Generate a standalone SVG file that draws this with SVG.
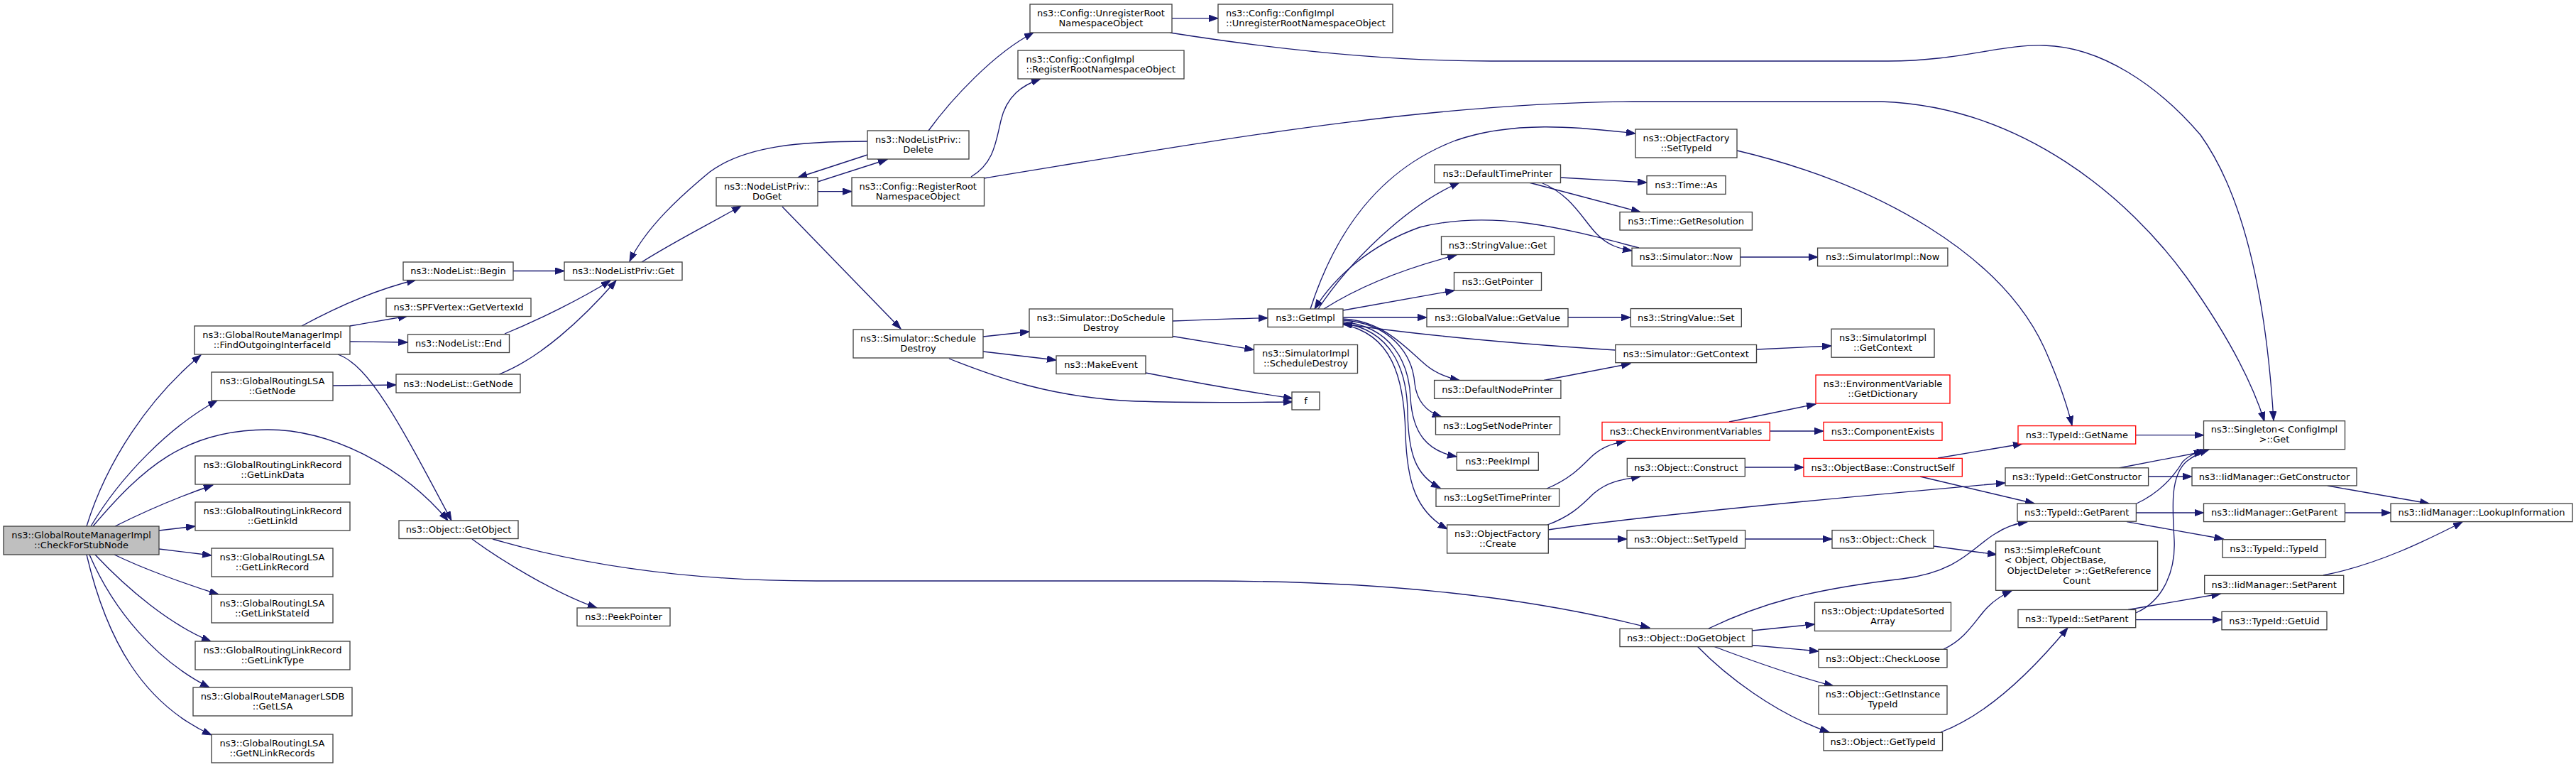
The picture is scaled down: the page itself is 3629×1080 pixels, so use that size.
<svg xmlns="http://www.w3.org/2000/svg" width="3629" height="1080" viewBox="0 0 3629 1080">
<defs>
<style>
.n rect{fill:#fff;stroke:#404040;stroke-width:1.33}
.n.red rect{stroke:#f00}
.n.root rect{fill:#bfbfbf}
text{font-family:"DejaVu Sans",Verdana,sans-serif;font-size:13px;fill:#000;text-anchor:middle}
text.l{text-anchor:start}
#edges path{fill:none;stroke:#191970;stroke-width:1.33;marker-end:url(#arr)}
</style>
<marker id="arr" markerWidth="14" markerHeight="11" refX="13" refY="4.7" orient="auto" markerUnits="userSpaceOnUse"><path d="M0,0 L13,4.7 L0,9.4 z" fill="#191970" stroke="#191970" stroke-width="1"/></marker>
</defs>
<rect x="0" y="0" width="3629" height="1080" fill="#fff"/>
<g id="edges">
<path d="M122,741 C150,650 210,560 283,500"/>
<path d="M128,741 C170,670 240,600 306,564"/>
<path d="M131,741 C200,660 260,605 377,605 C470,605 570,660 631,733"/>
<path d="M162,741 C200,722 250,700 300,683"/>
<path d="M224,747 L275,741"/>
<path d="M224,773 L298,782"/>
<path d="M161,781 C200,800 260,822 308,837"/>
<path d="M134,781 C180,830 240,880 297,903"/>
<path d="M126,781 C160,860 220,930 295,968"/>
<path d="M122,781 C150,900 200,990 298,1035"/>
<path d="M425,459 C460,440 520,410 586,394"/>
<path d="M493,459 L574,445"/>
<path d="M493,481 L574,482"/>
<path d="M476,499 C520,515 560,590 636,733"/>
<path d="M469,543 L558,542"/>
<path d="M723,381.5 L795,381.5"/>
<path d="M711,470 C760,450 820,420 860,395"/>
<path d="M703,527 C760,505 820,450 868,395"/>
<path d="M904,369 C950,340 1000,315 1044,290"/>
<path d="M1222,199 C1130,199 1050,205 1000,242 C960,275 910,320 887,368"/>
<path d="M1152,256 L1250,224.5"/>
<path d="M1222,218 L1124,250"/>
<path d="M1152,269.6 L1200,269.6"/>
<path d="M1102,291 L1269,463"/>
<path d="M1308,184 C1340,140 1400,75 1456,46"/>
<path d="M1368,249 C1400,230 1403,200 1410,170 C1418,135 1440,120 1466,111"/>
<path d="M1386,251 C1700,200 2000,145 2300,143 L2650,143 C2850,150 3000,280 3080,390 C3130,460 3170,530 3190,593"/>
<path d="M1651,25.8 L1716,25.8"/>
<path d="M1648,46 C1800,70 1950,86 2100,86 L2660,86 C2760,86 2820,62 2880,64 C2960,66 3040,120 3100,190 C3150,260 3190,380 3203,592"/>
<path d="M1385,474 L1450,467"/>
<path d="M1385,495 L1488,507"/>
<path d="M1337,505 C1400,530 1480,560 1600,565 C1700,568 1780,566 1821,566"/>
<path d="M1614,525 C1680,538 1760,552 1821,561"/>
<path d="M1652,452 C1700,450 1740,448.5 1786,447.7"/>
<path d="M1652,473.5 L1766.5,492.4"/>
<path d="M1846,435 C1880,330 1940,240 2050,198 C2130,170 2220,178 2304,188"/>
<path d="M1857,435 C1900,370 1980,290 2056,257"/>
<path d="M2309,349 C2200,320 2100,295 2000,320 C1930,345 1880,390 1852,435"/>
<path d="M2198.5,250 L2320,257"/>
<path d="M2154,257 L2311,298.6"/>
<path d="M2171,257 C2215,275 2230,310 2250,330 C2265,345 2280,350 2299,353"/>
<path d="M1865,435 C1920,400 1990,375 2052,359"/>
<path d="M1892,437 L2049,409"/>
<path d="M1892,447 L2010,447"/>
<path d="M2209,447 L2297,447"/>
<path d="M2276,493 C2150,485 2000,472 1892,456"/>
<path d="M1892,449 C1950,452 1980,490 2010,515 C2025,527 2040,532 2056,535.5"/>
<path d="M2175,535.5 L2297,512"/>
<path d="M1892,451 C1960,455 1990,500 1993,540 C1996,565 2010,580 2031,587"/>
<path d="M1892,453 C1960,460 1985,510 1987,560 C1990,610 2010,635 2052,643"/>
<path d="M1892,455 C1960,465 1982,520 1983,580 C1984,640 1995,670 2029,687"/>
<path d="M1892,457 C1960,470 1978,530 1980,610 C1982,680 1995,720 2039,745"/>
<path d="M2179,688 C2210,675 2225,660 2240,645 C2255,630 2270,625 2290,621"/>
<path d="M2180,739 C2210,728 2225,715 2245,695 C2265,678 2285,675 2311,671"/>
<path d="M2181,746 C2300,728 2600,700 2825,680"/>
<path d="M2181,759 L2292,759"/>
<path d="M2447,212 C2650,260 2820,360 2880,490 C2900,535 2912,570 2919,599"/>
<path d="M2436,594 L2558,569"/>
<path d="M2493,607 L2569,607"/>
<path d="M2458,658 L2541,658"/>
<path d="M2730,645 L2849,625"/>
<path d="M2705,671 L2866,709"/>
<path d="M2459,759 L2581,759"/>
<path d="M2724,769 L2813,781"/>
<path d="M694,759 C800,790 950,818 1150,818 L1700,818 C1950,818 2150,840 2324,884"/>
<path d="M665,759 C700,785 780,835 841,856"/>
<path d="M2407,885 C2480,850 2550,830 2680,815 C2760,805 2780,770 2810,752 C2825,742 2840,737 2856,735"/>
<path d="M2468,888 L2556.5,879"/>
<path d="M2468,908.5 L2562,917"/>
<path d="M2415,910.5 C2480,935 2540,955 2583,966"/>
<path d="M2391,910 C2430,950 2500,1005 2577,1031"/>
<path d="M2738,914 C2770,900 2785,870 2800,855 C2810,845 2820,838 2834,832"/>
<path d="M2734,1031 C2790,1010 2850,960 2913,884"/>
<path d="M3009,612.7 L3104.5,612.7"/>
<path d="M2985,659 L3104,636"/>
<path d="M3027,671 L3088,671"/>
<path d="M3010,709 C3040,695 3060,675 3075,650 C3085,640 3095,637 3108,635"/>
<path d="M3010,722 L3104.5,722"/>
<path d="M2996,734.6 L3132.6,759"/>
<path d="M3009,863 C3050,845 3065,800 3063,760 C3060,710 3058,670 3080,650 C3090,642 3100,637 3112,633"/>
<path d="M2998,858.5 L3128.5,836"/>
<path d="M3009,872.6 L3130,872.6"/>
<path d="M3279,684 L3422,709"/>
<path d="M3303.4,722 L3368,722"/>
<path d="M3273,810 C3350,795 3420,760 3469,735"/>
<path d="M2452,362 L2561,362"/>
<path d="M2474.5,492 L2580,487"/>
</g>
<g id="n_check" class="n root"><rect x="5" y="741" width="219" height="40"/><text x="114.5" y="757.5">ns3::GlobalRouteManagerImpl</text><text x="114.5" y="771.5">::CheckForStubNode</text></g>
<g id="n_find" class="n"><rect x="274" y="459" width="219" height="40"/><text x="383.5" y="475.5">ns3::GlobalRouteManagerImpl</text><text x="383.5" y="489.5">::FindOutgoingInterfaceId</text></g>
<g id="n_lsanode" class="n"><rect x="298" y="524" width="171" height="40"/><text x="383.5" y="540.5">ns3::GlobalRoutingLSA</text><text x="383.5" y="554.5">::GetNode</text></g>
<g id="n_linkdata" class="n"><rect x="275" y="642" width="218" height="40"/><text x="384" y="658.5">ns3::GlobalRoutingLinkRecord</text><text x="384" y="672.5">::GetLinkData</text></g>
<g id="n_linkid" class="n"><rect x="275" y="707" width="218" height="40"/><text x="384" y="723.5">ns3::GlobalRoutingLinkRecord</text><text x="384" y="737.5">::GetLinkId</text></g>
<g id="n_linkrecord" class="n"><rect x="298" y="772" width="171" height="40"/><text x="383.5" y="788.5">ns3::GlobalRoutingLSA</text><text x="383.5" y="802.5">::GetLinkRecord</text></g>
<g id="n_linkstate" class="n"><rect x="298" y="837" width="171" height="40"/><text x="383.5" y="853.5">ns3::GlobalRoutingLSA</text><text x="383.5" y="867.5">::GetLinkStateId</text></g>
<g id="n_linktype" class="n"><rect x="275" y="903" width="218" height="40"/><text x="384" y="919.5">ns3::GlobalRoutingLinkRecord</text><text x="384" y="933.5">::GetLinkType</text></g>
<g id="n_getlsa" class="n"><rect x="272" y="968" width="224" height="40"/><text x="384" y="984.5">ns3::GlobalRouteManagerLSDB</text><text x="384" y="998.5">::GetLSA</text></g>
<g id="n_nlink" class="n"><rect x="298" y="1034" width="171" height="40"/><text x="383.5" y="1050.5">ns3::GlobalRoutingLSA</text><text x="383.5" y="1064.5">::GetNLinkRecords</text></g>
<g id="n_begin" class="n"><rect x="568" y="369" width="155" height="25.5"/><text x="645.5" y="386.2">ns3::NodeList::Begin</text></g>
<g id="n_vertex" class="n"><rect x="544" y="420" width="204" height="25.5"/><text x="646" y="437.2">ns3::SPFVertex::GetVertexId</text></g>
<g id="n_end" class="n"><rect x="574.5" y="471" width="143" height="25.5"/><text x="646" y="488.2">ns3::NodeList::End</text></g>
<g id="n_nlgetnode" class="n"><rect x="558" y="527" width="175" height="26"/><text x="645.5" y="544.5">ns3::NodeList::GetNode</text></g>
<g id="n_getobject" class="n"><rect x="562" y="733" width="168" height="25.5"/><text x="646" y="750.2">ns3::Object::GetObject</text></g>
<g id="n_peekpointer" class="n"><rect x="813" y="856" width="131" height="25.5"/><text x="878.5" y="873.2">ns3::PeekPointer</text></g>
<g id="n_privget" class="n"><rect x="795" y="369" width="166" height="25.5"/><text x="878" y="386.2">ns3::NodeListPriv::Get</text></g>
<g id="n_doget" class="n"><rect x="1009" y="250" width="143" height="40"/><text x="1080.5" y="266.5">ns3::NodeListPriv::</text><text x="1080.5" y="280.5">DoGet</text></g>
<g id="n_delete" class="n"><rect x="1222" y="184" width="143" height="40"/><text x="1293.5" y="200.5">ns3::NodeListPriv::</text><text x="1293.5" y="214.5">Delete</text></g>
<g id="n_regroot" class="n"><rect x="1200" y="250" width="186.5" height="40"/><text x="1293.2" y="266.5">ns3::Config::RegisterRoot</text><text x="1293.2" y="280.5">NamespaceObject</text></g>
<g id="n_unregroot" class="n"><rect x="1451" y="6" width="200" height="40"/><text x="1551" y="22.5">ns3::Config::UnregisterRoot</text><text x="1551" y="36.5">NamespaceObject</text></g>
<g id="n_implreg" class="n"><rect x="1434" y="71" width="234" height="40"/><text class="l" x="1445.5" y="87.5">ns3::Config::ConfigImpl</text><text class="l" x="1445.5" y="101.5">::RegisterRootNamespaceObject</text></g>
<g id="n_implunreg" class="n"><rect x="1716" y="6" width="246" height="40"/><text class="l" x="1727" y="22.5">ns3::Config::ConfigImpl</text><text class="l" x="1727" y="36.5">::UnregisterRootNamespaceObject</text></g>
<g id="n_schedule" class="n"><rect x="1202" y="464" width="183" height="40"/><text x="1293.5" y="480.5">ns3::Simulator::Schedule</text><text x="1293.5" y="494.5">Destroy</text></g>
<g id="n_doschedule" class="n"><rect x="1450" y="435" width="202" height="40"/><text x="1551" y="451.5">ns3::Simulator::DoSchedule</text><text x="1551" y="465.5">Destroy</text></g>
<g id="n_makeevent" class="n"><rect x="1488" y="501" width="126" height="25.5"/><text x="1551" y="518.2">ns3::MakeEvent</text></g>
<g id="n_f" class="n"><rect x="1820" y="552" width="39" height="25"/><text x="1839.5" y="569">f</text></g>
<g id="n_getimpl" class="n"><rect x="1786" y="435" width="106" height="25.5"/><text x="1839" y="452.2">ns3::GetImpl</text></g>
<g id="n_simimplsched" class="n"><rect x="1766.5" y="485.5" width="146" height="40"/><text x="1839.5" y="502">ns3::SimulatorImpl</text><text x="1839.5" y="516">::ScheduleDestroy</text></g>
<g id="n_dtp" class="n"><rect x="2021" y="232" width="177.5" height="25.5"/><text x="2109.7" y="249.2">ns3::DefaultTimePrinter</text></g>
<g id="n_svget" class="n"><rect x="2030.5" y="333" width="159" height="25.5"/><text x="2110" y="350.2">ns3::StringValue::Get</text></g>
<g id="n_getpointer" class="n"><rect x="2048.5" y="383.6" width="123" height="25.5"/><text x="2110" y="400.8">ns3::GetPointer</text></g>
<g id="n_gvget" class="n"><rect x="2010" y="434.6" width="199" height="25.5"/><text x="2109.5" y="451.8">ns3::GlobalValue::GetValue</text></g>
<g id="n_dnp" class="n"><rect x="2020.6" y="535.5" width="178.3" height="25.8"/><text x="2109.7" y="552.9">ns3::DefaultNodePrinter</text></g>
<g id="n_lsnp" class="n"><rect x="2022.5" y="586.8" width="175" height="25.2"/><text x="2110" y="603.9">ns3::LogSetNodePrinter</text></g>
<g id="n_peekimpl" class="n"><rect x="2052.3" y="637" width="115" height="25.2"/><text x="2109.8" y="654.1">ns3::PeekImpl</text></g>
<g id="n_lstp" class="n"><rect x="2023" y="688" width="173.6" height="25.2"/><text x="2109.8" y="705.1">ns3::LogSetTimePrinter</text></g>
<g id="n_ofcreate" class="n"><rect x="2038.6" y="739" width="142.7" height="40"/><text x="2110" y="755.5">ns3::ObjectFactory</text><text x="2110" y="769.5">::Create</text></g>
<g id="n_ofsettype" class="n"><rect x="2304" y="182" width="143" height="40"/><text x="2375.5" y="198.5">ns3::ObjectFactory</text><text x="2375.5" y="212.5">::SetTypeId</text></g>
<g id="n_timeas" class="n"><rect x="2320" y="247.6" width="111" height="25.8"/><text x="2375.5" y="265">ns3::Time::As</text></g>
<g id="n_timeres" class="n"><rect x="2282" y="298.6" width="186.4" height="25.4"/><text x="2375.2" y="315.8">ns3::Time::GetResolution</text></g>
<g id="n_simnow" class="n"><rect x="2299" y="349.2" width="152.6" height="25.5"/><text x="2375.3" y="366.4">ns3::Simulator::Now</text></g>
<g id="n_svset" class="n"><rect x="2297.3" y="434.6" width="156" height="25.5"/><text x="2375.3" y="451.8">ns3::StringValue::Set</text></g>
<g id="n_simctx" class="n"><rect x="2275.8" y="485.5" width="198.7" height="25.2"/><text x="2375.1" y="502.6">ns3::Simulator::GetContext</text></g>
<g id="n_simimplnow" class="n"><rect x="2560.6" y="349.2" width="183.3" height="25.5"/><text x="2652.2" y="366.4">ns3::SimulatorImpl::Now</text></g>
<g id="n_simimplctx" class="n"><rect x="2580" y="463.2" width="145" height="40"/><text x="2652.5" y="479.7">ns3::SimulatorImpl</text><text x="2652.5" y="493.7">::GetContext</text></g>
<g id="n_envdict" class="n red"><rect x="2558" y="528" width="189" height="40"/><text x="2652.5" y="544.5">ns3::EnvironmentVariable</text><text x="2652.5" y="558.5">::GetDictionary</text></g>
<g id="n_checkenv" class="n red"><rect x="2257" y="594.4" width="236.3" height="25.8"/><text x="2375.1" y="611.8">ns3::CheckEnvironmentVariables</text></g>
<g id="n_compexists" class="n red"><rect x="2569" y="594.4" width="167" height="25.8"/><text x="2652.5" y="611.8">ns3::ComponentExists</text></g>
<g id="n_construct" class="n"><rect x="2292.3" y="645.4" width="166" height="25.3"/><text x="2375.3" y="662.5">ns3::Object::Construct</text></g>
<g id="n_constructself" class="n red"><rect x="2541" y="645.4" width="223.3" height="25.5"/><text x="2652.6" y="662.6">ns3::ObjectBase::ConstructSelf</text></g>
<g id="n_objsettype" class="n"><rect x="2292" y="746.6" width="166.6" height="25.5"/><text x="2375.3" y="763.8">ns3::Object::SetTypeId</text></g>
<g id="n_objcheck" class="n"><rect x="2581" y="746.6" width="143" height="25.5"/><text x="2652.5" y="763.8">ns3::Object::Check</text></g>
<g id="n_dogetobject" class="n"><rect x="2282" y="885.4" width="186.4" height="25.2"/><text x="2375.2" y="902.5">ns3::Object::DoGetObject</text></g>
<g id="n_updsorted" class="n"><rect x="2556.5" y="848.2" width="192" height="40.3"/><text x="2652.5" y="864.8">ns3::Object::UpdateSorted</text><text x="2652.5" y="878.8">Array</text></g>
<g id="n_checkloose" class="n"><rect x="2562" y="914.3" width="181" height="25.5"/><text x="2652.5" y="931.5">ns3::Object::CheckLoose</text></g>
<g id="n_getinst" class="n"><rect x="2562" y="965.6" width="181" height="40.3"/><text x="2652.5" y="982.2">ns3::Object::GetInstance</text><text x="2652.5" y="996.2">TypeId</text></g>
<g id="n_objgettype" class="n"><rect x="2569" y="1031.4" width="167.5" height="25.5"/><text x="2652.7" y="1048.6">ns3::Object::GetTypeId</text></g>
<g id="n_getname" class="n red"><rect x="2843" y="599.6" width="165.7" height="25.5"/><text x="2925.8" y="616.8">ns3::TypeId::GetName</text></g>
<g id="n_getctor" class="n"><rect x="2825" y="658.8" width="201.6" height="25.1"/><text x="2925.8" y="675.8">ns3::TypeId::GetConstructor</text></g>
<g id="n_getparent" class="n"><rect x="2842" y="709.1" width="167.4" height="25.1"/><text x="2925.7" y="726.1">ns3::TypeId::GetParent</text></g>
<g id="n_simpleref" class="n"><rect x="2811.6" y="762" width="228" height="69.3"/><text class="l" x="2823.5" y="778.6">ns3::SimpleRefCount</text><text class="l" x="2823.5" y="793.1">&lt; Object, ObjectBase,</text><text class="l" x="2827.5" y="807.5">ObjectDeleter &gt;::GetReference</text><text x="2925.6" y="822">Count</text></g>
<g id="n_setparent" class="n"><rect x="2843" y="858.5" width="165.7" height="25.2"/><text x="2925.8" y="875.6">ns3::TypeId::SetParent</text></g>
<g id="n_singleton" class="n"><rect x="3104.5" y="592.7" width="199" height="40"/><text x="3204" y="609.2">ns3::Singleton&lt; ConfigImpl</text><text x="3204" y="623.2">&gt;::Get</text></g>
<g id="n_iidctor" class="n"><rect x="3088" y="658.8" width="232" height="25.1"/><text x="3204" y="675.8">ns3::IidManager::GetConstructor</text></g>
<g id="n_iidparent" class="n"><rect x="3104.5" y="709.1" width="199" height="25.5"/><text x="3204" y="726.3">ns3::IidManager::GetParent</text></g>
<g id="n_lookup" class="n"><rect x="3368" y="709.1" width="256" height="25.5"/><text x="3496" y="726.3">ns3::IidManager::LookupInformation</text></g>
<g id="n_typeid" class="n"><rect x="3131" y="759.7" width="145.5" height="25.5"/><text x="3203.7" y="776.9">ns3::TypeId::TypeId</text></g>
<g id="n_iidsetparent" class="n"><rect x="3105.7" y="810.3" width="196" height="25.5"/><text x="3203.7" y="827.5">ns3::IidManager::SetParent</text></g>
<g id="n_getuid" class="n"><rect x="3130" y="861.3" width="148" height="25.5"/><text x="3204" y="878.5">ns3::TypeId::GetUid</text></g>
</svg>
